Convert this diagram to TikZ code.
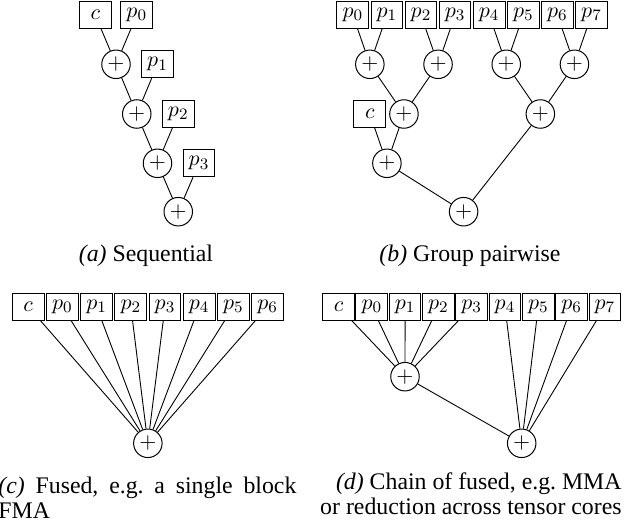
\documentclass[tikz,border=0pt]{standalone}
\usepackage{fontspec}
\setmainfont{Liberation Serif}
\frenchspacing
\tikzset{
  valbox/.style={draw, line width=0.5pt, minimum width=15.85pt, minimum height=13.35pt, inner sep=0pt, font=\fontsize{11}{13}\selectfont},
  addnode/.style={draw, circle, line width=0.5pt, minimum size=14.25pt, inner sep=0pt, font=\fontsize{11}{13}\selectfont},
  link/.style={line width=0.45pt},
  captext/.style={inner sep=0pt, font=\fontsize{11.9}{12.75}\selectfont}
}
\begin{document}
\begin{tikzpicture}[x=0.5pt, y=-0.5pt]
\useasboundingbox (0,0) rectangle (629,524);
% ---------- (a) Sequential ----------
\node[valbox] (ac) at (95.25,15) {$c$};
\node[valbox] (ap0) at (136.75,15) {$p_0$};
\node[addnode] (as1) at (116,64.3) {$+$};
\node[valbox] (ap1) at (157.5,64.3) {$p_1$};
\node[addnode] (as2) at (136.75,114) {$+$};
\node[valbox] (ap2) at (178.25,114) {$p_2$};
\node[addnode] (as3) at (157.5,163.3) {$+$};
\node[valbox] (ap3) at (199,163.3) {$p_3$};
\node[addnode] (as4) at (178.25,211.7) {$+$};
\draw[link] (ac) -- (as1);
\draw[link] (ap0) -- (as1);
\draw[link] (as1) -- (as2);
\draw[link] (ap1) -- (as2);
\draw[link] (as2) -- (as3);
\draw[link] (ap2) -- (as3);
\draw[link] (as3) -- (as4);
\draw[link] (ap3) -- (as4);
\node[captext, anchor=base] (capa) at (146,262) {\textit{(a)} Sequential};
% ---------- (b) Group pairwise ----------
\foreach \i in {0,...,7} {
  \node[valbox] (bp\i) at ({352.8+34.1*\i},15) {$p_{\i}$};
}
\node[addnode] (bs01) at (369.85,64.3) {$+$};
\node[addnode] (bs23) at (438.05,64.3) {$+$};
\node[addnode] (bs45) at (506.25,64.3) {$+$};
\node[addnode] (bs67) at (574.45,64.3) {$+$};
\node[addnode] (bsL) at (403.95,114) {$+$};
\node[addnode] (bsR) at (540.35,114) {$+$};
\node[valbox] (bc) at (369.85,114) {$c$};
\node[addnode] (bsC) at (386.9,163.3) {$+$};
\node[addnode] (bsF) at (463.6,211.7) {$+$};
\draw[link] (bp0) -- (bs01);
\draw[link] (bp1) -- (bs01);
\draw[link] (bp2) -- (bs23);
\draw[link] (bp3) -- (bs23);
\draw[link] (bp4) -- (bs45);
\draw[link] (bp5) -- (bs45);
\draw[link] (bp6) -- (bs67);
\draw[link] (bp7) -- (bs67);
\draw[link] (bs01) -- (bsL);
\draw[link] (bs23) -- (bsL);
\draw[link] (bs45) -- (bsR);
\draw[link] (bs67) -- (bsR);
\draw[link] (bc) -- (bsC);
\draw[link] (bsL) -- (bsC);
\draw[link] (bsC) -- (bsF);
\draw[link] (bsR) -- (bsF);
\node[captext, anchor=base] (capb) at (470,262) {\textit{(b)} Group pairwise};
% ---------- (c) Fused ----------
\node[valbox] (cc) at (28.2,306.7) {$c$};
\foreach \i in {0,...,6} {
  \node[valbox] (cp\i) at ({28.2+34.2*(\i+1)},306.7) {$p_{\i}$};
}
\node[addnode] (cs) at (147.85,443.3) {$+$};
\draw[link] (cc) -- (cs);
\foreach \i in {0,...,6} { \draw[link] (cp\i) -- (cs); }
\node[captext, anchor=base west] (capc1) at (-2,494) {\makebox[149pt][s]{\textit{(c)} Fused, e.g. a single block}};
\node[captext, anchor=base west] (capc2) at (-2,519) {FMA};
% ---------- (d) Chain of fused ----------
\node[valbox] (dc) at (338.5,306.7) {$c$};
\foreach \i in {0,...,7} {
  \node[valbox] (dp\i) at ({338.5+33.3*(\i+1)},306.7) {$p_{\i}$};
}
\node[addnode] (ds1) at (405,376.7) {$+$};
\node[addnode] (ds2) at (521.7,443.3) {$+$};
\draw[link] (dc) -- (ds1);
\foreach \i in {0,...,3} { \draw[link] (dp\i) -- (ds1); }
\foreach \i in {4,...,7} { \draw[link] (dp\i) -- (ds2); }
\draw[link] (ds1) -- (ds2);
\node[captext, anchor=base east] (capd1) at (622,490) {\textit{(d)} Chain of fused, e.g. MMA};
\node[captext, anchor=base east] (capd2) at (622,515) {or reduction across tensor cores};
\end{tikzpicture}
\end{document}
